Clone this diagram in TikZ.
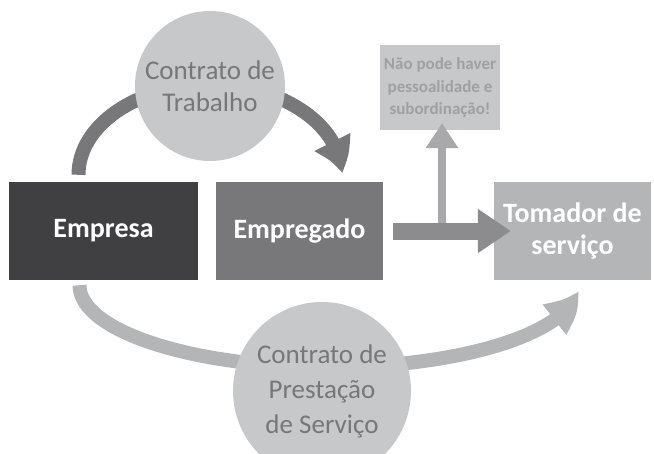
\documentclass[tikz,border=0pt]{standalone}
\usepackage{fontspec}
\setmainfont{Carlito}
\usepackage{tikz}
\usetikzlibrary{arrows.meta,bending,backgrounds}

\definecolor{escuro}{HTML}{404042}
\definecolor{medio}{HTML}{78787B}
\definecolor{claro}{HTML}{B4B5B7}
\definecolor{circulo}{HTML}{C7C8CA}
\definecolor{textocirc}{HTML}{77777A}
\definecolor{seta}{HTML}{8C8C8E}
\definecolor{setaclara}{HTML}{A9A9AB}
\definecolor{textonota}{HTML}{A0A0A2}

\begin{document}
\begin{tikzpicture}
	[x=1pt, y=1pt,
	caixa/.style={rectangle, minimum height=98pt, inner sep=0pt, align=center,
		text=white, font=\fontsize{28}{32}\selectfont\bfseries},
	contrato/.style={circle, fill=circulo, inner sep=0pt, align=center, text=textocirc},
	arco/.style={line width=14pt, -{Triangle[width=38pt,length=33pt,bend]}}]
	\useasboundingbox (0,0) rectangle (654,-453);
	\clip (0,0) rectangle (654,-453);
	% caixas
	\node[caixa, fill=escuro, minimum width=189pt] (empresa) at (103.5,-231) {Empresa};
	\node[caixa, fill=medio, minimum width=167pt] (empregado) at (299.5,-231) {Empregado};
	\node[caixa, fill=claro, minimum width=157pt] (tomador) at (572.5,-231) {Tomador de\\servi\c{c}o};
	\node[rectangle, fill=circulo, minimum width=120pt, minimum height=85pt, inner sep=0pt,
		align=center, text=textonota, font=\fontsize{17}{22.5}\selectfont\bfseries]
		(nota) at (440,-87.5) {N\~ao pode haver\\pessoalidade e\\subordina\c{c}\~ao!};
	% contratos
	\node[contrato, minimum size=150pt, font=\fontsize{27}{32}\selectfont]
		(trabalho) at (210,-86) {Contrato de\\Trabalho};
	\node[contrato, minimum size=178pt, font=\fontsize{27}{35}\selectfont]
		(prestacao) at (322,-391) {Contrato de\\Presta\c{c}\~ao\\de Servi\c{c}o};
	% arcos
	\begin{scope}[on background layer]
		\draw[arco, medio] ([xshift=-25pt,yshift=7pt]empresa.north)
			arc[start angle=180, end angle=1, x radius=131.5pt, y radius=90pt];
		\draw[arco, claro] ([xshift=-24pt,yshift=-5pt]empresa.south)
			arc[start angle=180, end angle=356, x radius=249pt, y radius=82pt];
	\end{scope}
	% setas
	\draw[line width=17pt, seta, -{Triangle[width=42pt,length=33pt]}]
		([xshift=10pt]empregado.east) -- ([xshift=17pt]tomador.west);
	\coordinate (ramo) at (442,-223);
	\draw[line width=8pt, setaclara, shorten >=-7pt, -{Triangle[width=31pt,length=25pt]}]
		(ramo) -- (ramo |- nota.south);
\end{tikzpicture}
\end{document}
